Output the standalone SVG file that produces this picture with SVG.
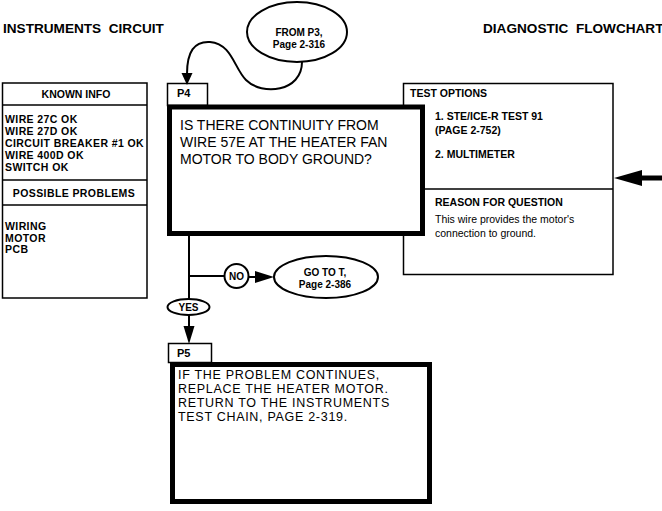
<svg xmlns="http://www.w3.org/2000/svg" width="662" height="511" viewBox="0 0 662 511">
<style>
text{font-family:"Liberation Sans",Arial,Helvetica,sans-serif;fill:#000}
.b{font-weight:bold}
.ttl{font-size:13.6px;font-weight:bold}
.thin{fill:#fff;stroke:#000;stroke-width:1.5}
.thick{fill:#fff;stroke:#000;stroke-width:5}
.ell{fill:#fff;stroke:#000;stroke-width:2}
.ln{fill:none;stroke:#000;stroke-width:2}
.lbl{font-size:10px;font-weight:bold;text-anchor:middle}
.hd{font-size:10.5px;font-weight:bold}
.it{font-size:10.5px;font-weight:bold;letter-spacing:0.4px}
.q{font-size:14px}
.q5{font-size:12.5px;letter-spacing:0.7px}
</style>
<rect width="662" height="511" fill="#fff"/>
<text class="ttl" x="3" y="33" xml:space="preserve">INSTRUMENTS  CIRCUIT</text>
<text class="ttl" x="483" y="33" xml:space="preserve">DIAGNOSTIC  FLOWCHART</text>

<g id="known-info">
<rect class="thin" x="2.5" y="83" width="144.5" height="215"/>
<line x1="2.5" y1="105" x2="147" y2="105" stroke="#000" stroke-width="1.5"/>
<text class="hd" x="76" y="98" text-anchor="middle">KNOWN INFO</text>
<text class="it" x="5" y="123">WIRE 27C OK</text>
<text class="it" x="5" y="135">WIRE 27D OK</text>
<text class="it" x="5" y="147">CIRCUIT BREAKER #1 OK</text>
<text class="it" x="5" y="159">WIRE 400D OK</text>
<text class="it" x="5" y="171">SWITCH OK</text>
<line x1="2.5" y1="180" x2="147" y2="180" stroke="#000" stroke-width="1.5"/>
<line x1="2.5" y1="205" x2="147" y2="205" stroke="#000" stroke-width="1.5"/>
<text class="it" x="74" y="197" text-anchor="middle">POSSIBLE PROBLEMS</text>
<text class="it" x="5" y="230">WIRING</text>
<text class="it" x="5" y="242">MOTOR</text>
<text class="it" x="5" y="253" font-size="9">PCB</text>
</g>

<g id="test-options">
<rect class="thin" x="403.5" y="83.5" width="209.5" height="191"/>
<line x1="403.5" y1="189" x2="613" y2="189" stroke="#000" stroke-width="1.5"/>
<text class="hd" x="410" y="97">TEST OPTIONS</text>
<text class="hd" x="435" y="120">1. STE/ICE-R TEST 91</text>
<text class="hd" x="435" y="134">(PAGE 2-752)</text>
<text class="hd" x="435" y="158">2. MULTIMETER</text>
<text class="hd" x="435" y="206">REASON FOR QUESTION</text>
<text x="435" y="223" font-size="10.5">This wire provides the motor's</text>
<text x="435" y="237" font-size="10.5">connection to ground.</text>
</g>

<g id="from-p3">
<ellipse class="ell" cx="297" cy="32" rx="50" ry="30"/>
<text class="lbl" x="299" y="36">FROM P3,</text>
<text class="lbl" x="299" y="48">Page 2-316</text>
</g>

<g id="p4">
<rect class="thin" x="167.5" y="83.5" width="40" height="22"/>
<text class="b" x="177" y="97" font-size="11">P4</text>
<rect class="thick" x="169.5" y="107" width="253" height="126.5"/>
<text class="q" x="180" y="130">IS THERE CONTINUITY FROM</text>
<text class="q" x="180" y="147">WIRE 57E AT THE HEATER FAN</text>
<text class="q" x="180" y="164">MOTOR TO BODY GROUND?</text>
</g>

<g id="go-to-t">
<ellipse class="ell" cx="326" cy="277" rx="52" ry="21"/>
<text class="lbl" x="325" y="276">GO TO T,</text>
<text class="lbl" x="325" y="288">Page 2-386</text>
</g>

<g id="p5">
<rect class="thin" x="168.5" y="343.5" width="43" height="19"/>
<text class="b" x="177" y="357" font-size="11">P5</text>
<rect class="thick" x="172.5" y="364.5" width="257" height="137"/>
<text class="q5" x="178" y="379">IF THE PROBLEM CONTINUES,</text>
<text class="q5" x="178" y="393">REPLACE THE HEATER MOTOR.</text>
<text class="q5" x="178" y="407">RETURN TO THE INSTRUMENTS</text>
<text class="q5" x="178" y="421">TEST CHAIN, PAGE 2-319.</text>
</g>

<g id="connectors">
<path class="ln" d="M302,62 C302,92 262,96 246,80 C234,68 232,44 210,42 C194,41 187,52 187,74"/>
<polygon points="181.5,73 192.5,73 187,85"/>
<line x1="189" y1="235" x2="189" y2="299" stroke="#000" stroke-width="2"/>
<line x1="189" y1="276" x2="224" y2="276" stroke="#000" stroke-width="2"/>
<circle class="ell" cx="236.5" cy="276" r="12"/>
<text class="lbl" x="236.5" y="280">NO</text>
<line x1="248" y1="277" x2="258" y2="277" stroke="#000" stroke-width="2"/>
<polygon points="255,271 274,277 255,283"/>
<ellipse class="ell" cx="188.5" cy="307" rx="21" ry="8"/>
<text class="lbl" x="188.5" y="311">YES</text>
<line x1="189" y1="315" x2="189" y2="330" stroke="#000" stroke-width="2"/>
<polygon points="183.5,326 194.5,326 189,344"/>
<line x1="640" y1="178" x2="662" y2="178" stroke="#000" stroke-width="5"/>
<polygon points="642,170 642,186 614,178"/>
</g>
</svg>
